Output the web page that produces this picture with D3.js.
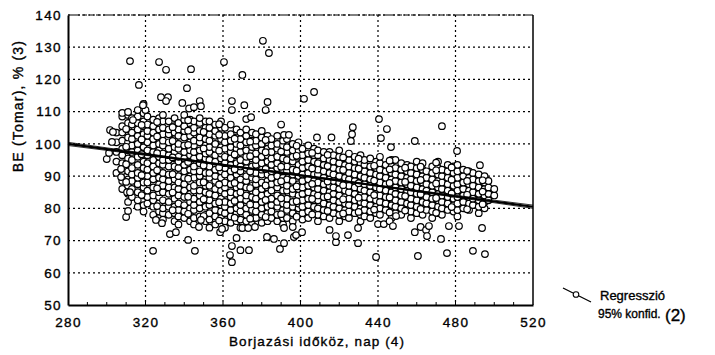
<!DOCTYPE html>
<html>
<head>
<meta charset="utf-8">
<script src="https://cdn.jsdelivr.net/npm/d3@7"></script>
<style>
  body { margin: 0; background: #fff; }
  svg text { font-family: "Liberation Sans", Arial, sans-serif; fill: #000; stroke: #000; stroke-width: 0.35px; }
</style>
</head>
<body>
<svg id="chart" width="715" height="355"></svg>
<script>
// dense cloud: one column of BE values per calving interval
const colDays = [305,308,311,313,316,319,321,324,327,329,332,335,337,340,343,345,348,351,353,356,359,361,364,367,369,372,375,377,380,383,385,388,391,393,396,399,401,404,407,409,412,415,417,420,423,425,428,431,433,436,439,441,444,447,449,452,455,457,460,463,465,468,471,473,476,479,481,484,487,489,492,495,497,500];
const colBE = [
  "91 94.5 97.5 100.5 103.5",
  "86 88.5 91.5 94 96.5 98.5 101 103.5 105.5 108.5",
  "82 84.5 87 89 91.5 93.5 95.5 98 100.5 102 104.5 106.5 109",
  "83.5 86 88.5 90.5 92.5 95 97.5 99.5 101.5 103.5 106 108",
  "80.5 82.5 85 87.5 89.5 91 93.5 96 98 100 102.5 104.5 106.5 108.5 110.5",
  "79 81 84 86.5 88 90.5 92.5 94.5 97 99 101 103 105.5 107 109.5",
  "81.5 83.5 85.5 88 90 92 94 96.5 98 100.5 102.5 104 106 108.5",
  "78 80.5 82.5 84 86.5 89 91 93 95 97.5 99.5 101.5 103.5 105.5 107.5",
  "77 79 81.5 83.5 85 87.5 89.5 92 94 96 98 100 102.5 104.5 106.5 108",
  "76.5 78.5 80 82.5 85 87 89 91 93.5 95 97 99.5 101 103 105 107 109",
  "78 80.5 82 84.5 86.5 88.5 90.5 93 95 96.5 98.5 100.5 103 104.5 107",
  "76 78.5 80.5 83 85 86.5 89 91 93 95.5 97.5 99 101.5 103.5 105.5 108",
  "75 77.5 79.5 81.5 84 86 88 90 92.5 94.5 96 98.5 100 102.5 104.5 106.5",
  "77 79 81 83.5 85.5 87.5 89.5 91.5 93.5 95.5 97.5 99.5 102 104 105.5 107.5 109",
  "76 78 80 82 84.5 86.5 88.5 90 92 94.5 96.5 98 100.5 102.5 104.5 107.5",
  "75 77 79.5 81 83 85.5 87 89.5 91.5 93 95.5 97.5 99.5 101 103.5 105 107",
  "77.5 80 82 84 85.5 88 90 91.5 94 96 98 100.5 102 104 106.5 108",
  "76 78 80.5 83 85 87 89 91 93.5 95.5 97 99.5 101.5 103.5 105 107",
  "74 76.5 78.5 81 82.5 84.5 87 89.5 91 93 95 97.5 99 101 103 105 107",
  "75 77.5 79.5 81.5 84 86 88.5 90 92 94.5 96.5 98.5 100 102.5 104 106",
  "77 79 81 83 85.5 87.5 89.5 91.5 93 95.5 97 99 101.5 103.5 105 107",
  "74 76 78.5 80.5 82 84.5 86.5 88 90.5 92.5 94 96 98.5 100.5 102.5 105",
  "75.5 77.5 79.5 81.5 83.5 85 87.5 89.5 91.5 93.5 95.5 97.5 99 101 103 106",
  "76 78.5 80 82.5 84.5 86.5 88.5 90.5 92 94 96.5 98.5 100 102 104.5",
  "74 76.5 79 81 83 85 87 89 91.5 93 95 97.5 99.5 101.5 103.5",
  "76 78 80 82.5 84 86.5 88.5 90 92.5 94.5 96 98 100.5 102.5 104.5",
  "75 77 79.5 81.5 83.5 85.5 87 89.5 91 93 95.5 97.5 99 101 103.5",
  "77 79 81 83 85 87.5 89 91 93.5 95 97 99.5 101 103",
  "75.5 78 80 82 84 86 88 90.5 92 94 96 98 100 102 104",
  "76 78.5 80.5 82.5 84.5 86.5 88.5 90.5 92.5 94.5 96.5 98.5 100.5 102.5",
  "77 79 81 83 85.5 87.5 89.5 91.5 93.5 95.5 97.5 99.5 101.5",
  "76 78 80.5 82 84 86.5 88 90 92.5 94 96 98.5 100 102.5",
  "75 77 79.5 81.5 83.5 85.5 87.5 89.5 91.5 93.5 95.5 97.5 99.5 101",
  "77 79.5 81 83 85.5 87 89 91.5 93 95 97.5 99 101.5",
  "76 78.5 80.5 82 84.5 86 88.5 90.5 92 94.5 96 98 100",
  "78 80 81.5 84 86 87.5 90 92 93.5 96 98 100.5",
  "76.5 78.5 80.5 82.5 84.5 86.5 88.5 90.5 92.5 94.5 96.5 98.5",
  "77 79 81 83 85 87 89 91 93 95 97 99.5",
  "78.5 80.5 82.5 84.5 86.5 88.5 90.5 92.5 94.5 96.5 98.5",
  "76 78 80 82.5 84 86 88 90.5 92 94 96.5 98",
  "77.5 79.5 81.5 83.5 85.5 87.5 89.5 91.5 93.5 95.5 97.5",
  "77 79 81 83 85 87 89 91 93 95 97.5",
  "78.5 80.5 82.5 84.5 86.5 88.5 90.5 92.5 94.5 96.5",
  "76 78 80 82 84 86 88 90 92 94 96 98",
  "77.5 79.5 81.5 83.5 85.5 87.5 89.5 91.5 93.5 95.5",
  "77 79 81 83 85 87 89 91 93 95 97",
  "78.5 80.5 82.5 84.5 86.5 88.5 90.5 92.5 94.5 96",
  "76 78 80 82 84 86 88 90 92 94 96.5",
  "77.5 79.5 81.5 83.5 85.5 87.5 89.5 91.5 93.5 95",
  "77 79 81 83 85 87 89 91 93 95.5",
  "78.5 80.5 82.5 84.5 86.5 88.5 90.5 92.5 94.5",
  "78 80 82 84 86 88 90 92 94 96",
  "79.5 81.5 83.5 85.5 87.5 89.5 91.5 93.5",
  "77 79 81 83 85 87 89 91 93 95",
  "78.5 80.5 82.5 84.5 86.5 88.5 90.5 92.5 95",
  "78 80 82 84 86 88 90 92 94",
  "79.5 81.5 83.5 85.5 87.5 89.5 91.5 93.5",
  "77 79 81 83 85 87 89 91 93",
  "78.5 80.5 82.5 84.5 86.5 88.5 90.5 92.5 94.5",
  "78 80 82 84 86 88 90 92 94",
  "79.5 81.5 83.5 85.5 87.5 89.5 91.5",
  "77 79 81 83 85 87 89 91 93",
  "78.5 80.5 82.5 84.5 86.5 88.5 90.5 92.5 94.5",
  "78 80 82 84 86 88 90 92",
  "79.5 81.5 83.5 85.5 87.5 89.5 91.5 93.5",
  "79 81 83 85 87 89 91 93",
  "77.5 79.5 81.5 83.5 85.5 87.5 89.5 91.5 93.5",
  "80 82 84 86 88 90 92",
  "79.5 81.5 83.5 85.5 87.5 89.5 91.5",
  "81 83 85 87 89 91",
  "78.5 80.5 82.5 84.5 86.5 88.5 90.5",
  "80 82 84 86 88 90",
  "82.5 84.5 86.5 88.5",
  "84 86"
];

// second, sparser layer read between the columns above
const midDays = [310, 318, 326, 334, 342, 350, 358, 366, 374, 382, 390, 398, 406, 414, 422, 430, 438, 446, 454, 462, 470, 478, 486, 494];
const midBE = [
  "88.2 93.7 99.1 104.6",
  "84.1 90.3 96.8 101.4 105.9",
  "80.7 86.2 91.8 97.1 102.3 106.8",
  "79.4 84.9 90.6 95.8 100.9 105.2",
  "78.3 83.6 89.2 94.4 99.7 104.1 107.3",
  "77.6 82.8 88.1 93.3 98.6 103.7",
  "76.2 81.9 87.4 92.7 97.9 102.8 106.1",
  "77.1 82.3 87.9 92.1 96.7 101.6",
  "76.8 81.2 86.3 91.4 96.2 100.7",
  "77.3 82.6 87.1 92.2 97.4 101.2",
  "78.2 83.1 88.4 92.9 97.6",
  "77.4 82.2 86.8 91.7 96.3 99.4",
  "78.1 82.9 87.6 92.4 97.2",
  "79.2 83.7 88.3 93.1 96.6",
  "78.4 82.8 87.2 91.9 95.8",
  "78.9 83.3 87.8 92.3 95.4",
  "79.6 84.1 88.6 93.2",
  "78.7 83.4 87.9 92.1 94.8",
  "79.3 83.8 88.2 92.6",
  "79.8 84.4 88.8 92.9",
  "78.6 83.2 87.7 91.8 94.2",
  "80.4 84.6 88.9 92.7",
  "79.7 84.2 88.5 91.6",
  "81.3 85.2 88.7"
];

// scattered points outside the dense cloud [days, BE]
const strayPts = [
  [312,125.7],[316.6,118.3],[327,125.4],[330.6,123],[343.5,123.2],[341.4,117.3],[360.5,125.4],[370,121.4],
  [380.6,132],[383.7,128.2],[401.8,114],[407,116.1],[328,114.5],[331.6,114.5],[330.6,113.3],[319,112.4],
  [320,110.5],[339,112.7],[342.5,111],[345,111.4],[348,113.3],[348.6,111.7],[364.6,113.3],[364.6,110.5],
  [371,112],[383,113],[382,110.5],[372,107.7],[374.5,108.3],[390,106],[391.5,102.8],[394,102.8],
  [408.5,102],[416,102],[440.5,107.7],[427,105.2],[426.6,103],[426,100.9],[444.6,104.6],[441.5,101.8],
  [473,105.5],[459,100.9],[446.7,99],[480.8,97.8],[492.6,93.4],
  [300,95.3],[301.2,97.2],[302.7,100.6],[301.7,104.3],[303.2,103.7],[307.4,92.2],[307.4,89.7],[310.5,85],
  [312,85],[308,109.6],[311,109.9],[313.5,107.4],[318.7,112],
  [310,77.3],[311,79.2],[323.9,66.8],[325.4,76.4],[328.5,75.4],[332.6,72],[335.7,72.6],[342,70.2],
  [345.5,66.8],[347.6,74.2],[348.6,76.4],[358.5,72.6],[359.5,73.6],[363.6,65.5],[364.6,63.3],[364.6,68.3],
  [367,70.8],[369,67],[373.4,67],[370,73.9],[373,73.9],[376.5,74.2],[382.7,71.1],[386.3,70.5],
  [389.4,67.4],[391.5,69.2],[391.5,73.9],[396.6,71.1],[397.7,71.7],[400.8,72.6],[418.3,69.5],[429.7,69.2],
  [424.5,71.7],[439,64.9],[460.6,65.2],[475.6,66.1],[489,66.8],[495.2,65.8],[472.5,70.5],[493.7,73.9],
  [459,72.6],[462,74.2],[464.8,73.3],[466.3,74.5],[465.3,71.4],[476.6,74.5],[481.8,74.5],[440,75.1],
  [443,75.1],[446,76],[449.3,77.6],[447.7,74.5],[415,73.3],[418.3,71.4],[429.7,73.9],[396,74.2]
];

// regression line and 95% band
const bandDays = [280, 320, 360, 400, 440, 480, 520];
const regBE    = [100, 96.75, 93.5, 90.25, 87, 83.75, 80.5];
const ciLow    = [99.5, 96.45, 93.35, 90.1, 86.85, 83.45, 80.0];
const ciHigh   = [100.5, 97.05, 93.65, 90.4, 87.15, 84.05, 81.0];

const xTicks = [280, 320, 360, 400, 440, 480, 520];
const yTicks = [50, 60, 70, 80, 90, 100, 110, 120, 130, 140];

const svg = d3.select("#chart");
const pLeft = 68, pRight = 533, pTop = 15, pBottom = 305;

const x = d3.scaleLinear().domain([280, 520]).range([pLeft, pRight]);
const y = d3.scaleLinear().domain([50, 140]).range([pBottom, pTop]);

// grid
const grid = svg.append("g").attr("stroke", "#000").attr("stroke-width", 1.2).attr("stroke-dasharray", "2,3");
grid.selectAll(".gx").data(xTicks.slice(1, -1)).enter().append("line")
    .attr("x1", d => x(d)).attr("x2", d => x(d)).attr("y1", pTop).attr("y2", pBottom);
grid.selectAll(".gy").data(yTicks.slice(1)).enter().append("line")
    .attr("x1", pLeft).attr("x2", pRight).attr("y1", d => y(d)).attr("y2", d => y(d));

// points
let pts = [];
colDays.forEach((d, i) => colBE[i].split(" ").forEach(v => pts.push([d, +v])));
midDays.forEach((d, i) => midBE[i].split(" ").forEach(v => pts.push([d, +v])));
pts = pts.concat(strayPts);

svg.append("g").selectAll("circle").data(pts).enter().append("circle")
    .attr("cx", d => x(d[0])).attr("cy", d => y(d[1]))
    .attr("r", 3.3).attr("fill", "#fff").attr("stroke", "#000").attr("stroke-width", 1.2);

// regression + band
const line = d3.line().x((d, i) => x(bandDays[i])).y(d => y(d)).curve(d3.curveMonotoneX);
svg.append("path").attr("d", line(regBE)).attr("fill", "none").attr("stroke", "#000").attr("stroke-width", 2.2);
[ciLow, ciHigh].forEach(arr => {
    svg.append("path").attr("d", line(arr))
        .attr("fill", "none").attr("stroke", "#000").attr("stroke-width", 0.8);
});

// frame
svg.append("line").attr("x1", pRight).attr("x2", pRight).attr("y1", pTop).attr("y2", pBottom)
    .attr("stroke", "#000").attr("stroke-width", 1.5);
svg.append("line").attr("x1", pLeft).attr("x2", pRight).attr("y1", pTop).attr("y2", pTop)
    .attr("stroke", "#000").attr("stroke-width", 1.2).attr("stroke-dasharray", "5,2");

// axes
const xAxis = d3.axisBottom(x).tickValues(xTicks).tickSize(0).tickPadding(12);
const gx = svg.append("g").attr("transform", `translate(0,${pBottom})`).call(xAxis);
const yAxis = d3.axisLeft(y).tickValues(yTicks).tickSize(0).tickPadding(6);
const gy = svg.append("g").attr("transform", `translate(${pLeft},0)`).call(yAxis);
[gx, gy].forEach(g => {
    g.select(".domain").attr("stroke", "#000").attr("stroke-width", 2);
    g.selectAll("text").attr("font-size", 13.5).attr("letter-spacing", 1.4)
        .attr("font-family", "Liberation Sans, Arial, sans-serif");
});

// minor inward ticks
svg.append("g").selectAll("line").data(d3.range(290, 520, 10)).enter().append("line")
    .attr("x1", d => x(d)).attr("x2", d => x(d)).attr("y1", pBottom).attr("y2", pBottom - 3)
    .attr("stroke", "#000").attr("stroke-width", 1);

// labels
svg.append("text").attr("x", 317).attr("y", 346).attr("text-anchor", "middle")
    .attr("font-size", 13.5).attr("letter-spacing", 1.1).text("Borjazási időköz, nap (4)");
svg.append("text").attr("transform", "translate(23,106) rotate(-90)").attr("text-anchor", "middle")
    .attr("font-size", 14).attr("letter-spacing", 1.2).text("BE (Tomar), % (3)");

// legend
const lg = svg.append("g");
lg.append("path").attr("d", "M563,288 L573,293 M579,296 L591,302")
    .attr("stroke", "#000").attr("stroke-width", 1.3).attr("fill", "none");
lg.append("circle").attr("cx", 576).attr("cy", 294.5).attr("r", 2.8)
    .attr("fill", "#fff").attr("stroke", "#000").attr("stroke-width", 1.1);
lg.append("text").attr("x", 600).attr("y", 300).attr("font-size", 13).text("Regresszió");
lg.append("text").attr("x", 598).attr("y", 318).attr("font-size", 12).text("95% konfid.");
lg.append("text").attr("x", 665).attr("y", 321).attr("font-size", 17).text("(2)");
</script>
</body>
</html>
